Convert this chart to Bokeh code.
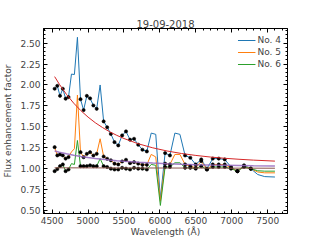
from bokeh.plotting import figure
from bokeh.models import (Range1d, LinearAxis, SingleIntervalTicker, NumeralTickFormatter,
                          Legend, LegendItem)
from bokeh.embed import file_html
from bokeh.resources import INLINE

# ---- data ----
wavelength = [4535, 4572, 4610, 4649, 4688, 4728, 4769, 4810, 4852, 4895, 4938, 4983, 5028,
              5074, 5120, 5168, 5217, 5266, 5317, 5368, 5420, 5474, 5528, 5584, 5640, 5698,
              5757, 5818, 5879, 5942, 6006, 6072, 6139, 6208, 6278, 6350, 6423, 6498, 6575,
              6654, 6735, 6818, 6902, 6989, 7078, 7170, 7264, 7360, 7458, 7600]
no4 = [1.955, 1.99, 1.87, 1.955, 1.836, 1.855, 2.13, 2.125, 2.57, 1.83, 1.70, 1.87, 1.84,
       1.755, 1.715, 2.00, 1.565, 1.495, 1.415, 1.317, 1.278, 1.397, 1.445, 1.346, 1.357,
       1.286, 1.226, 1.206, 1.425, 1.41, 0.64, 1.186, 1.158, 1.425, 1.41, 1.158, 1.13, 1.05,
       1.11, 1.00, 1.12, 1.12, 1.11, 1.02, 0.97, 1.04, 1.00, 0.93, 0.905, 0.90]
no5 = [1.257, 1.158, 1.17, 1.158, 1.12, 1.138, 1.20, 1.238, 1.88, 1.197, 1.137, 1.177, 1.197,
       1.157, 1.177, 1.357, 1.145, 1.118, 1.10, 1.06, 1.05, 1.086, 1.106, 1.066, 1.078, 1.06,
       1.046, 1.046, 1.17, 1.14, 0.61, 1.06, 1.05, 1.17, 1.17, 1.05, 1.03, 1.01, 1.09, 0.99,
       1.05, 1.05, 1.05, 1.01, 0.97, 1.03, 1.00, 0.96, 0.95, 0.95]
no6 = [0.97, 0.995, 1.03, 1.05, 0.97, 0.99, 1.06, 1.05, 1.337, 1.03, 1.03, 1.03, 1.04, 1.03,
       1.03, 1.12, 1.03, 1.02, 1.00, 0.99, 0.99, 1.01, 1.00, 0.99, 1.01, 1.00, 1.00, 0.99,
       1.05, 1.04, 0.56, 1.02, 1.02, 1.07, 1.07, 1.01, 1.01, 1.00, 1.03, 0.99, 1.02, 1.02,
       1.02, 1.00, 0.97, 1.02, 1.00, 0.975, 0.97, 0.97]
# 1 = continuum point (black dot), 0 = excluded line feature
continuum = [1, 1, 1, 1, 1, 1, 0, 0, 0, 1, 1, 1, 1, 1, 1, 0, 1, 1, 1, 1, 1, 1, 1, 1, 1, 1,
             1, 1, 0, 0, 0, 1, 1, 0, 0, 1, 1, 1, 1, 1, 1, 1, 1, 1, 1, 1, 1, 0, 0, 0]

fit_wavelength = [4535, 4600, 4700, 4800, 4900, 5000, 5100, 5200, 5300, 5400, 5500, 5700,
                  5900, 6100, 6300, 6500, 6700, 6900, 7100, 7300, 7600]
fit_no4 = [2.100, 2.010, 1.887, 1.783, 1.693, 1.616, 1.549, 1.492, 1.441, 1.398, 1.360, 1.297,
           1.249, 1.211, 1.181, 1.158, 1.139, 1.124, 1.112, 1.102, 1.090]
fit_no5 = [1.210, 1.196, 1.177, 1.161, 1.146, 1.133, 1.122, 1.112, 1.103, 1.095, 1.088, 1.077,
           1.067, 1.059, 1.053, 1.048, 1.044, 1.041, 1.038, 1.035, 1.032]
fit_no6_wavelength = [4535, 7600]
fit_no6 = [1.010, 1.005]

series_labels = ["No. 4", "No. 5", "No. 6"]
series_colors = ["#1f77b4", "#ff7f0e", "#2ca02c"]

FONT = "DejaVu Sans"

p = figure(width=320, height=240, x_range=Range1d(4380, 7775), y_range=Range1d(0.464, 2.675),
           output_backend="svg", toolbar_location=None,
           min_border_left=39, min_border_right=33, min_border_top=28, min_border_bottom=27)
p.title.text = "19-09-2018"
p.title.align = "center"
p.title.text_font = FONT
p.title.text_font_size = "10px"
p.title.text_font_style = "normal"
p.title.standoff = 1

p.xgrid.visible = False
p.ygrid.visible = False
p.outline_line_color = "black"
p.outline_line_width = 1
p.background_fill_color = "white"
p.border_fill_color = "white"

xt = SingleIntervalTicker(interval=500, num_minor_ticks=5)
yt = SingleIntervalTicker(interval=0.25, num_minor_ticks=5)

def style(ax, labels=True, label_standoff=1):
    ax.major_tick_in = 4
    ax.major_tick_out = 0
    ax.minor_tick_in = 2
    ax.minor_tick_out = 0
    ax.axis_line_color = "black"
    ax.major_tick_line_color = "black"
    ax.minor_tick_line_color = "black"
    ax.major_label_text_font = FONT
    ax.axis_label_text_font = FONT
    ax.axis_label_text_font_size = "9px"
    ax.axis_label_text_font_style = "normal"
    ax.axis_label_standoff = label_standoff
    if labels:
        ax.major_label_text_font_size = "9px"
        ax.major_label_standoff = 3
    else:
        ax.major_label_text_font_size = "0px"
        ax.major_label_text_color = None
        ax.major_label_standoff = 0

p.xaxis.ticker = xt
p.yaxis.ticker = yt
p.yaxis.formatter = NumeralTickFormatter(format="0.00")
p.xaxis.axis_label = "Wavelength (Å)"
p.yaxis.axis_label = "Flux enhancement factor"
style(p.xaxis[0], label_standoff=0)
style(p.yaxis[0], label_standoff=4)

top = LinearAxis(ticker=xt)
right = LinearAxis(ticker=yt)
style(top, labels=False)
style(right, labels=False)
p.add_layout(top, "above")
p.add_layout(right, "right")

renderers = []
for vals, col in zip([no4, no5, no6], series_colors):
    r = p.line(wavelength, vals, line_color=col, line_width=1)
    renderers.append(r)

for vals in [no4, no5, no6]:
    xs = [w for w, c in zip(wavelength, continuum) if c]
    ys = [v for v, c in zip(vals, continuum) if c]
    p.scatter(xs, ys, size=3.2, fill_color="black", line_color="black", line_width=0.6)

p.line(fit_wavelength, fit_no4, line_color="#d62728", line_width=1)
p.line(fit_wavelength, fit_no5, line_color="#9467bd", line_width=1.5, line_alpha=0.85)
p.line(fit_no6_wavelength, fit_no6, line_color="#8c564b", line_width=1)

legend = Legend(items=[LegendItem(label=l, renderers=[r]) for l, r in zip(series_labels, renderers)],
                location="top_right")
legend.border_line_color = None
legend.background_fill_alpha = 0
legend.label_text_font = FONT
legend.label_text_font_size = "9px"
legend.glyph_width = 18
legend.glyph_height = 12
legend.label_height = 12
legend.spacing = 0
legend.padding = 0
legend.margin = 6
legend.label_standoff = 2
p.add_layout(legend, "center")

open("out.html", "w").write(file_html(p, INLINE))
